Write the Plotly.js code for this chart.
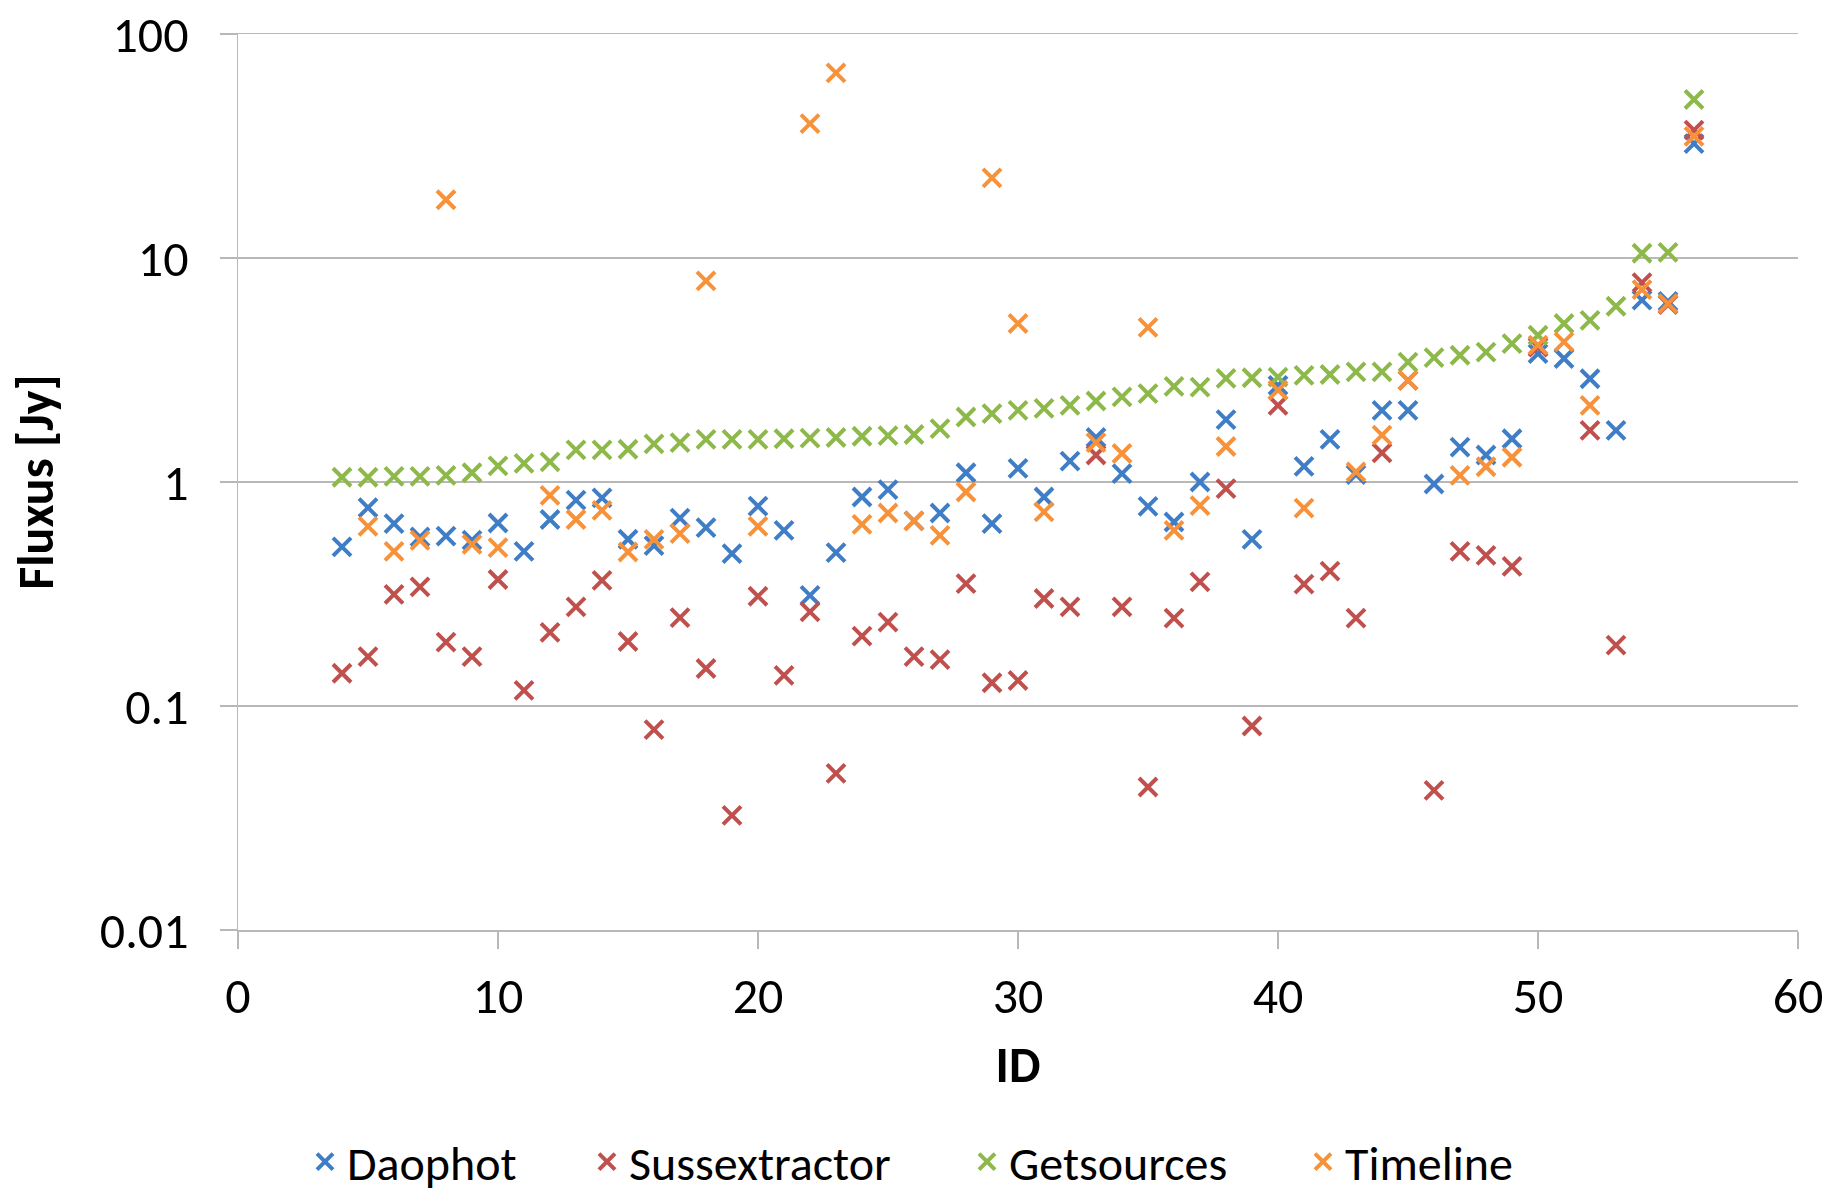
<!DOCTYPE html>
<html>
<head>
<meta charset="utf-8">
<script src="https://cdn.plot.ly/plotly-3.0.1.min.js"></script>
<style>html,body{margin:0;padding:0;background:#fff;}#chart{width:1830px;height:1192px;}</style>
</head>
<body>
<div id="chart"></div>
<script>
const ids = [4,5,6,7,8,9,10,11,12,13,14,15,16,17,18,19,20,21,22,23,24,25,26,27,28,29,30,31,32,33,34,35,36,37,38,39,40,41,42,43,44,45,46,47,48,49,50,51,52,53,54,55,56];

const daophot = [0.513,0.768,0.652,0.568,0.573,0.55,0.656,0.49,0.68,0.83,0.85,0.555,0.52,0.69,0.626,0.479,0.78,0.608,0.312,0.484,0.857,0.925,0.67,0.727,1.10,0.652,1.15,0.857,1.24,1.58,1.09,0.779,0.663,1.0,1.9,0.554,2.7,1.175,1.55,1.08,2.09,2.09,0.98,1.43,1.32,1.56,3.74,3.56,2.89,1.70,6.48,6.4,32.4];

const sussextractor = [0.14,0.166,0.315,0.34,0.193,0.166,0.367,0.1175,0.213,0.277,0.364,0.194,0.0785,0.248,0.147,0.0325,0.309,0.137,0.263,0.05,0.205,0.237,0.166,0.161,0.352,0.127,0.13,0.302,0.277,1.32,0.277,0.0435,0.247,0.358,0.934,0.0814,2.2,0.35,0.40,0.247,1.35,2.84,0.042,0.49,0.47,0.42,4.0,null,1.70,0.187,7.77,6.2,37.2];

const getsources = [1.05,1.05,1.06,1.06,1.07,1.1,1.18,1.21,1.23,1.39,1.39,1.4,1.48,1.5,1.55,1.55,1.55,1.56,1.57,1.58,1.6,1.61,1.63,1.73,1.95,2.02,2.09,2.13,2.2,2.3,2.4,2.48,2.67,2.65,2.9,2.92,2.94,2.99,3.02,3.1,3.1,3.43,3.59,3.68,3.8,4.15,4.52,5.1,5.27,6.09,10.5,10.6,51];

const timeline = [null,0.634,0.49,0.549,18.2,0.527,0.509,null,0.872,0.68,0.747,0.487,0.554,0.588,7.9,null,0.634,null,39.8,67,0.647,0.727,0.67,0.578,0.902,22.8,5.1,0.735,null,1.50,1.34,4.9,0.608,0.785,1.44,null,2.57,0.765,null,1.11,1.62,2.84,null,1.07,1.17,1.29,4.08,4.22,2.2,null,7.23,6.26,34.9];

const seriesNames = ["Daophot","Sussextractor","Getsources","Timeline"];
const seriesColors = ["#3F7DC6","#C0504D","#8DB84A","#F7923A"];
const seriesData = [daophot, sussextractor, getsources, timeline];

const yTickVals = [0.01,0.1,1,10,100];
const yTickText = ["0.01","0.1","1","10","100"];
const xTickVals = [0,10,20,30,40,50,60];

const FONT = "Calibri, Carlito, Lato, sans-serif";
const FS = 50;
const GRID = "#B8B8B8";

// legend left edges (container px) for the four legend entries
const legendLeft = [303, 585, 965, 1301];
const legendKeys = ["legend", "legend2", "legend3", "legend4"];

const traces = seriesData.map((vals, i) => ({
  type: "scatter",
  mode: "markers",
  name: seriesNames[i],
  x: ids,
  y: vals,
  legend: legendKeys[i],
  marker: {
    symbol: "x-thin",
    size: 18,
    color: seriesColors[i],
    line: {color: seriesColors[i], width: 4}
  },
  hoverinfo: "x+y+name"
}));

const layout = {
  width: 1830,
  height: 1192,
  paper_bgcolor: "#ffffff",
  plot_bgcolor: "#ffffff",
  margin: {l: 238, r: 32, t: 34, b: 262, pad: 0, autoexpand: false},
  font: {family: FONT, size: FS, color: "#000000"},
  showlegend: true,
  xaxis: {
    range: [0, 60],
    tickvals: xTickVals,
    ticktext: xTickVals.map(String),
    showgrid: false,
    zeroline: false,
    showline: true,
    mirror: true,
    linecolor: GRID,
    linewidth: 1.5,
    ticks: "outside",
    ticklen: 17,
    tickwidth: 1.5,
    tickcolor: GRID,
    ticklabelstandoff: 4,
    tickfont: {family: FONT, size: FS, color: "#000000"},
    title: {text: "<b>ID</b>", font: {family: FONT, size: FS, color: "#000000"}, standoff: 22}
  },
  yaxis: {
    type: "log",
    range: [-2, 2],
    tickvals: yTickVals,
    ticktext: yTickText,
    showgrid: true,
    gridcolor: GRID,
    gridwidth: 1.5,
    zeroline: false,
    showline: true,
    linecolor: GRID,
    linewidth: 1.5,
    ticks: "outside",
    ticklen: 17,
    tickwidth: 1.5,
    tickcolor: GRID,
    ticklabelstandoff: 21,
    tickfont: {family: FONT, size: FS, color: "#000000"},
    title: {text: "<b>Fluxus [Jy]</b>", font: {family: FONT, size: FS, color: "#000000"}, standoff: 30}
  }
};

legendKeys.forEach((k, i) => {
  layout[k] = {
    orientation: "h",
    xref: "container", yref: "container",
    x: legendLeft[i] / 1830, xanchor: "left",
    y: 1 - 1162 / 1192, yanchor: "middle",
    font: {family: FONT, size: 48, color: "#000000"},
    bgcolor: "rgba(0,0,0,0)",
    itemwidth: 34
  };
});

Plotly.newPlot("chart", traces, layout, {displayModeBar: false, staticPlot: true});
</script>
</body>
</html>
